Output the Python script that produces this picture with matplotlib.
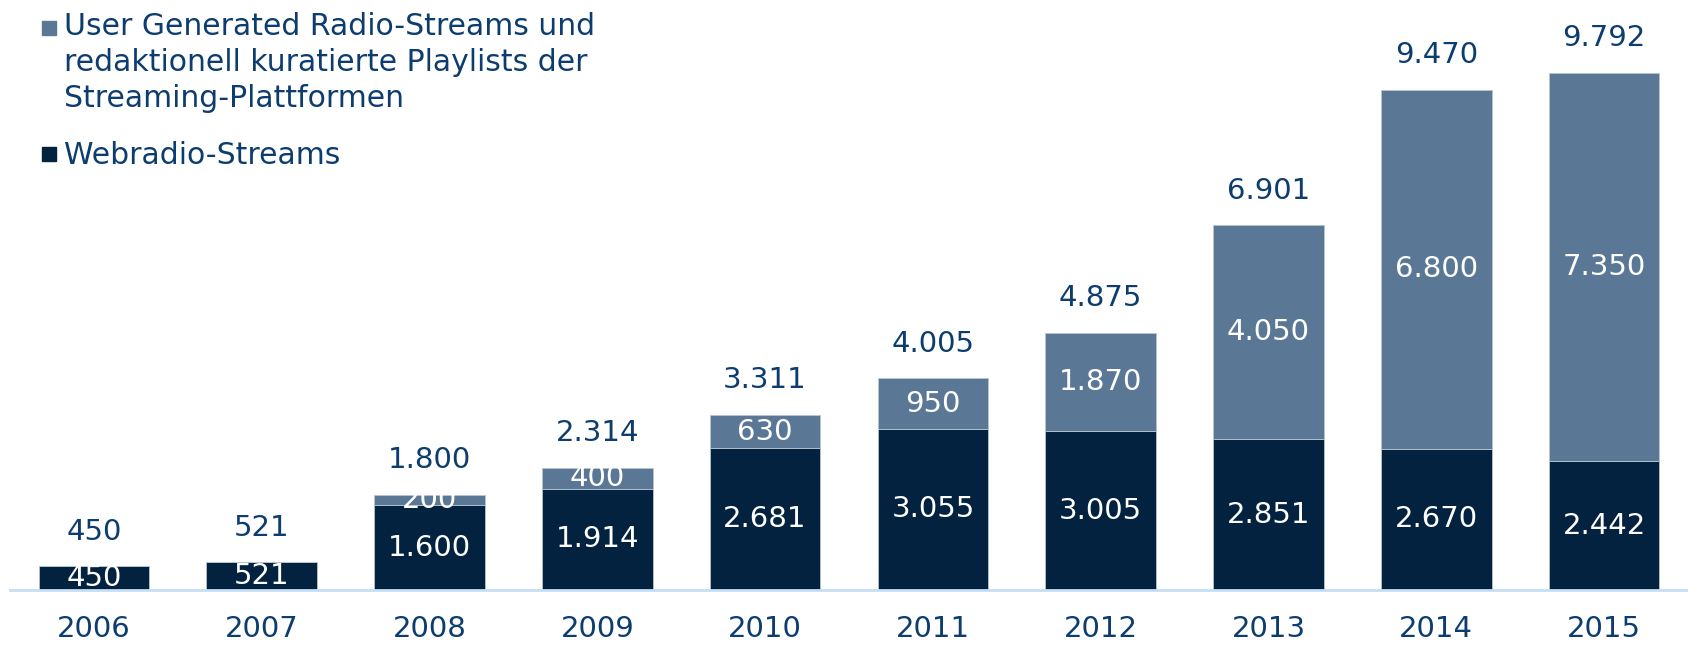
import matplotlib.pyplot as plt
from matplotlib.patches import Rectangle

years = ['2006', '2007', '2008', '2009', '2010', '2011', '2012', '2013', '2014', '2015']
webradio = [450, 521, 1600, 1914, 2681, 3055, 3005, 2851, 2670, 2442]
user_gen = [0, 0, 200, 400, 630, 950, 1870, 4050, 6800, 7350]
totals = [450, 521, 1800, 2314, 3311, 4005, 4875, 6901, 9470, 9792]

label_top = 'User Generated Radio-Streams und\nredaktionell kuratierte Playlists der\nStreaming-Plattformen'
label_bottom = 'Webradio-Streams'

navy = '#02223f'
slate = '#5a7796'
text_blue = '#0d3d6e'
line_blue = '#c5dff5'


def fmt(v):
    return f'{v:,}'.replace(',', '.')


fig = plt.figure(figsize=(16.88, 6.45), dpi=100)
ax = fig.add_axes([10 / 1688, 55 / 645, 1 - 10 / 1688, 1 - 55 / 645])

x = range(len(years))
ax.bar(x, webradio, width=0.66, color=navy, edgecolor='#b8c4d0', linewidth=0.6)
ax.bar(x, user_gen, width=0.66, bottom=webradio, color=slate, edgecolor='#b8c4d0', linewidth=0.6)

for i in x:
    ax.text(i, webradio[i] / 2, fmt(webradio[i]), ha='center', va='center',
            color='white', fontsize=21)
    if user_gen[i] > 0:
        ax.text(i, webradio[i] + user_gen[i] / 2, fmt(user_gen[i]), ha='center',
                va='center', color='white', fontsize=21)
    ax.annotate(fmt(totals[i]), (i, totals[i]), xytext=(0, 25), textcoords='offset points',
                ha='center', va='center', color=text_blue, fontsize=21)

ax.set_xlim(-0.5, 9.5)
ax.set_ylim(0, 11170)
ax.set_xticks(list(x))
ax.set_xticklabels(years, fontsize=21, color=text_blue)
ax.tick_params(axis='x', length=0, pad=18)
ax.set_yticks([])
for s in ['top', 'right', 'left']:
    ax.spines[s].set_visible(False)
ax.spines['bottom'].set_color(line_blue)
ax.spines['bottom'].set_linewidth(2)
ax.patch.set_alpha(0)

# legend drawn by hand so the square sits on the first line
fig.patches.append(Rectangle((42 / 1688, 1 - 35 / 645), 14 / 1688, 14 / 645,
                             transform=fig.transFigure, color=slate))
fig.text(64 / 1688, 1 - 12 / 645, label_top, ha='left', va='top', fontsize=21.5,
         color=text_blue, linespacing=1.3)
fig.patches.append(Rectangle((42 / 1688, 1 - 161 / 645), 14 / 1688, 14 / 645,
                             transform=fig.transFigure, color=navy))
fig.text(64 / 1688, 1 - 155 / 645, label_bottom, ha='left', va='center', fontsize=21.5,
         color=text_blue)

fig.savefig('out.png', dpi=100)
